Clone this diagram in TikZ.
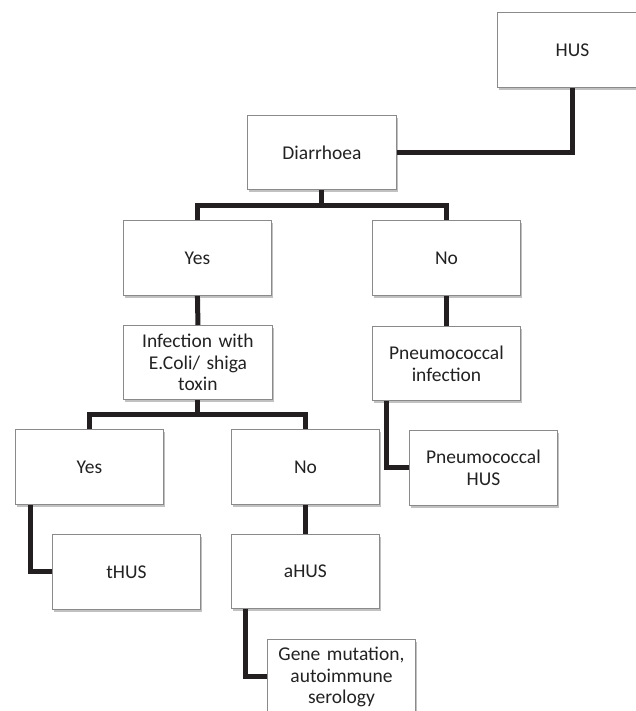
\documentclass[tikz,border=0pt]{standalone}
\usepackage{fontspec}
\setmainfont{Carlito}
\usetikzlibrary{shadows,calc}
\definecolor{linec}{HTML}{231F20}
\definecolor{boxc}{HTML}{8A8A8A}
\definecolor{txtc}{HTML}{222222}
\tikzset{
  box/.style={draw=boxc, line width=0.9pt, fill=white, anchor=north west,
    minimum width=148pt, minimum height=75pt, inner sep=0pt,
    text width=144pt, align=center, text=txtc,
    font=\fontsize{19.5}{21.7}\selectfont,
    drop shadow={shadow xshift=1.6pt, shadow yshift=-2.2pt, opacity=0.35, fill=black!70}},
  conn/.style={draw=linec, line width=5pt, line join=miter}
}
\begin{document}
\begin{tikzpicture}[x=1pt,y=-1pt]
\useasboundingbox (0,0) rectangle (636,711);
\node[box, minimum width=150pt] (hus) at (497,12) {HUS};
\node[box, minimum width=149pt, minimum height=74pt] (diar) at (247,115) {Diarrhoea};
\node[box] (yes1) at (123,220) {Yes};
\node[box] (no1) at (372,220) {No};
\node[box, minimum width=149pt, minimum height=74pt] (inf) at (123,325) {Infection with\\E.Coli/ shiga\\toxin};
\node[box, minimum height=74pt] (pinf) at (372,326) {Pneumococcal\\infection};
\node[box] (yes2) at (15,429) {Yes};
\node[box] (no2) at (231,429) {No};
\node[box] (phus) at (409,430) {Pneumococcal\\HUS};
\node[box] (thus) at (52,534) {tHUS};
\node[box, minimum height=74pt] (ahus) at (231,534) {aHUS};
\node[box] (gene) at (267,639) {Gene mutation,\\autoimmune\\serology};
% connectors
\draw[conn] (hus.south) |- (diar.east);
\coordinate (d1) at ($(diar.south)+(0,16)$);
\draw[conn] (yes1.north) |- (d1) -| (no1.north);
\draw[conn] (diar.south) -- (d1);
\draw[conn] (yes1.south) -- (inf.north);
\coordinate (i1) at ($(inf.south)+(0,15)$);
\draw[conn] (yes2.north) |- (i1) -| (no2.north);
\draw[conn] (inf.south) -- (i1);
\draw[conn] (no1.south) -- (pinf.north);
\draw[conn] ([xshift=14pt]pinf.south west) |- (phus.west);
\draw[conn] ([xshift=15pt]yes2.south west) |- (thus.west);
\draw[conn] (no2.south) -- (ahus.north);
\draw[conn] ([xshift=14pt]ahus.south west) |- (gene.west);
\end{tikzpicture}
\end{document}
